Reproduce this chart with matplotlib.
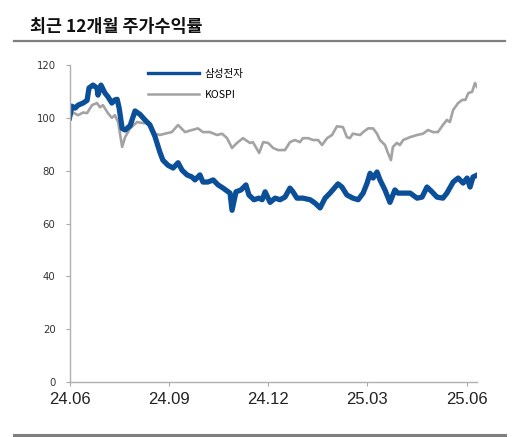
import matplotlib
matplotlib.use('Agg')
import matplotlib.pyplot as plt
from matplotlib.lines import Line2D

# months since 2024-06 and index levels (start = 100)
sec_m = [0.0, 0.07, 0.17, 0.26, 0.41, 0.53, 0.59, 0.71, 0.83, 0.86, 0.95, 1.07, 1.16, 1.28,
         1.37, 1.44, 1.50, 1.59, 1.68, 1.83, 1.98, 2.13, 2.28, 2.43, 2.58, 2.73, 2.82, 2.98,
         3.13, 3.28, 3.40, 3.55, 3.70, 3.79, 3.94, 4.03, 4.18, 4.34, 4.49, 4.64, 4.85, 4.91,
         5.03, 5.18, 5.33, 5.42, 5.57, 5.72, 5.82, 5.91, 6.06, 6.21, 6.36, 6.51, 6.66, 6.75,
         6.87, 7.05, 7.27, 7.42, 7.57, 7.72, 7.87, 8.11, 8.23, 8.38, 8.56, 8.72, 8.87, 8.99,
         9.08, 9.17, 9.29, 9.38, 9.53, 9.68, 9.83, 9.92, 10.08, 10.29, 10.50, 10.65, 10.80,
         10.95, 11.10, 11.28, 11.40, 11.59, 11.74, 11.89, 12.01, 12.10, 12.19, 12.31]
sec_v = [100, 104.4, 103.7, 104.8, 105.6, 106.6, 111.3, 112.4, 111.3, 108.6, 112.4, 109.4, 108,
         105.6, 106.8, 107, 103.7, 96, 95.4, 97, 102.6, 101.3, 99.2, 97.3, 93, 87, 84, 82,
         81, 83, 80.2, 78.4, 77.6, 76.5, 78.4, 75.7, 75.7, 76.5, 74.6, 73.4, 71.5, 65,
         72, 72.7, 74.6, 70.8, 69, 69.6, 69, 72, 68, 69.6, 69, 70, 73.4, 72,
         69.6, 69.6, 69, 67.7, 65.9, 69.6, 71.5, 75, 73.8, 70.8, 69.6, 69, 71.5, 75.3,
         79, 77.2, 79.5, 76.5, 72.7, 68, 72.7, 71.5, 71.5, 71.5, 69.6, 70, 73.8,
         72, 70, 69.6, 71.5, 75.7, 77.2, 75.3, 77.2, 73.8, 77.6, 78.3]

kospi_m = [0.0, 0.11, 0.26, 0.41, 0.53, 0.68, 0.83, 0.92, 1.01, 1.16, 1.28, 1.37, 1.47, 1.59,
           1.68, 1.83, 2.04, 2.22, 2.43, 2.58, 2.73, 2.88, 3.09, 3.28, 3.49, 3.70, 3.88,
           4.03, 4.24, 4.46, 4.61, 4.76, 4.91, 5.06, 5.24, 5.45, 5.54, 5.73,
           5.85, 6.00, 6.15, 6.30, 6.51, 6.66, 6.81, 6.96, 7.05, 7.21, 7.36, 7.51, 7.63, 7.78,
           7.93, 8.08, 8.26, 8.38, 8.47, 8.56, 8.78, 8.87, 9.02, 9.17, 9.29, 9.38, 9.53, 9.62,
           9.71, 9.77, 9.89, 9.98, 10.08, 10.29, 10.50, 10.68, 10.83, 10.98, 11.13, 11.28, 11.40,
           11.49, 11.59, 11.74, 11.87, 11.96, 12.05, 12.16, 12.25, 12.31]
kospi_v = [100, 102, 101, 102, 101.8, 104.8, 105.6, 104, 104.8, 101.8, 100, 101, 98.4, 89,
           92.7, 96, 98.4, 98, 98, 94, 93.5, 94, 94.6, 97.3, 94.6, 95.4, 96,
           94.6, 94.6, 93.5, 94, 92.3, 88.6, 90.5, 92.3, 90.5, 90.8, 86.7,
           90.8, 90.5, 88.6, 87.8, 87.8, 90.8, 91.6, 90.8, 92.3, 92.3, 91.6, 91.6, 89.7, 92.3,
           93.5, 96.8, 96.5, 92.7, 92.3, 94, 93.5, 94.6, 96, 96, 94, 91.6, 89.7, 86.7,
           84, 89, 90.5, 89.7, 91.6, 92.7, 93.5, 94, 95.4, 94.6, 94.6, 97.3, 99.2,
           98.4, 103, 105.6, 106.8, 106.8, 109.4, 109.8, 113.2, 111.7]

xtick_pos = [0, 3, 6, 9, 12]
xtick_lab = ['24.06', '24.09', '24.12', '25.03', '25.06']
ytick_pos = [0, 20, 40, 60, 80, 100, 120]

blue = '#0b4f98'
gray = '#a3a3a3'

fig = plt.figure(figsize=(5.22, 4.37), dpi=100)
ax = fig.add_axes([69.5/522, 55/437, (477-69.5)/522, 317/437])

ax.plot(kospi_m, kospi_v, color=gray, lw=1.9, solid_joinstyle='round')
ax.plot(sec_m, sec_v, color=blue, lw=3.8, solid_joinstyle='round')

ax.set_xlim(0, 12.31)
ax.set_ylim(0, 120)
ax.set_xticks(xtick_pos)
ax.set_xticklabels(xtick_lab, family='Liberation Sans', fontsize=12, color='#222222')
ax.set_yticks(ytick_pos)
ax.set_yticklabels([str(v) for v in ytick_pos], family='DejaVu Sans', fontsize=7.3, color='#333333')
ax.tick_params(axis='x', length=3, width=0.8, color='#aaaaaa', pad=4)
ax.tick_params(axis='y', length=3, width=0.8, color='#aaaaaa', pad=7)
for s in ['top', 'right']:
    ax.spines[s].set_visible(False)
for s in ['left', 'bottom']:
    ax.spines[s].set_color('#b0b0b0')
    ax.spines[s].set_linewidth(1.0)

handles = [Line2D([], [], color=blue, lw=2.4), Line2D([], [], color=gray, lw=1.8)]
leg = ax.legend(handles, ['삼성전자', 'KOSPI'], loc='upper left',
                bbox_to_anchor=(138/522, 1 - 59/437), bbox_transform=fig.transFigure,
                frameon=False, handlelength=4.9, handletextpad=0.55, labelspacing=1.1,
                prop={'family': ['Noto Sans CJK KR', 'DejaVu Sans'], 'size': 7.6})

fig.text(30/522, 1 - 27/437, '최근 12개월 주가수익률', family='Noto Sans CJK KR',
         fontweight='bold', fontsize=12.5, color='#111111', va='center', ha='left')
fig.add_artist(Line2D([14/522, 505/522], [1 - 41/437, 1 - 41/437], color='#7f7f7f', lw=1.6))
fig.add_artist(Line2D([14/522, 505/522], [1 - 435/437, 1 - 435/437], color='#7f7f7f', lw=2.2))

fig.savefig('out.png', dpi=100)
